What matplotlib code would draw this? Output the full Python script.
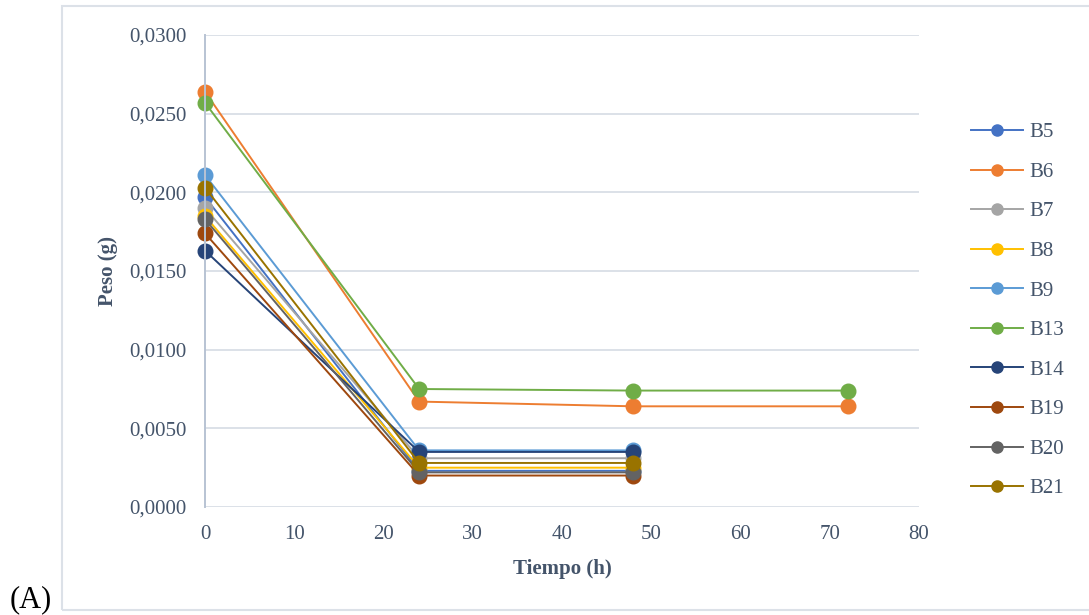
import matplotlib.pyplot as plt
from matplotlib.patches import Rectangle
from matplotlib.ticker import FuncFormatter, MultipleLocator

plt.rcParams['font.family'] = ['Liberation Serif', 'DejaVu Serif']

# Peso de cada muestra a lo largo del tiempo
tiempo_corto = [0, 24, 48]
tiempo_largo = [0, 24, 48, 72]

muestras = ['B5', 'B6', 'B7', 'B8', 'B9', 'B13', 'B14', 'B19', 'B20', 'B21']
peso_b5 = [0.0197, 0.0023, 0.0023]
peso_b6 = [0.0264, 0.0067, 0.0064, 0.0064]
peso_b7 = [0.0190, 0.0031, 0.0031]
peso_b8 = [0.0185, 0.0025, 0.0025]
peso_b9 = [0.0211, 0.0036, 0.0036]
peso_b13 = [0.0257, 0.0075, 0.0074, 0.0074]
peso_b14 = [0.0163, 0.0035, 0.0035]
peso_b19 = [0.0174, 0.0020, 0.0020]
peso_b20 = [0.0183, 0.0022, 0.0022]
peso_b21 = [0.0203, 0.0028, 0.0028]

pesos = [peso_b5, peso_b6, peso_b7, peso_b8, peso_b9,
         peso_b13, peso_b14, peso_b19, peso_b20, peso_b21]
colores = ['#4472C4', '#ED7D31', '#A5A5A5', '#FFC000', '#5B9BD5',
           '#70AD47', '#264478', '#9E480E', '#636363', '#997300']

texto = '#44546A'

fig = plt.figure(figsize=(10.89, 6.15), dpi=100)
ax = fig.add_axes([0.1882, 0.1756, 0.6557, 0.7675])

# Marco exterior del gráfico
fig.patches.append(Rectangle((0.0569, 0.0081), 1.0, 0.9821, transform=fig.transFigure,
                             fill=False, edgecolor='#DCE1E8', linewidth=1.5))

handles = []
for nombre, peso, color in zip(muestras, pesos, colores):
    t = tiempo_largo[:len(peso)]
    linea, = ax.plot(t, peso, color=color, linewidth=1.4, marker='o',
                     markersize=10.5, label=nombre)
    handles.append(linea)

ax.set_xlim(0, 80)
ax.set_ylim(0, 0.03)
ax.xaxis.set_major_locator(MultipleLocator(10))
ax.yaxis.set_major_locator(MultipleLocator(0.005))
ax.yaxis.set_major_formatter(FuncFormatter(lambda v, p: f'{v:.4f}'.replace('.', ',')))
ax.tick_params(length=0, labelsize=15, labelcolor=texto, pad=13)

ax.grid(axis='y', color='#DCE1E8', linewidth=1.4)
ax.set_axisbelow(True)
for lado in ['top', 'right', 'bottom']:
    ax.spines[lado].set_visible(False)
ax.spines['left'].set_color('#B8C3D3')
ax.spines['left'].set_linewidth(1.4)
for linea in handles:
    linea.set_clip_on(False)

ax.set_xlabel('Tiempo (h)', fontsize=15, fontweight='bold', color=texto, labelpad=11)
ax.set_ylabel('Peso (g)', fontsize=15, fontweight='bold', color=texto, labelpad=8)

leg_handles = [plt.Line2D([], [], color=c, linewidth=1.4, marker='o', markersize=8)
               for c in colores]
fig.legend(leg_handles, muestras, loc='center left', bbox_to_anchor=(0.8916, 0.495),
           frameon=False, fontsize=15, labelcolor=texto, handlelength=2.5,
           handletextpad=0.3, labelspacing=0.96, borderpad=0, borderaxespad=0)

fig.text(0.009, 0.012, '(A)', fontsize=22, color='black')

fig.savefig('out.png', dpi=100)
